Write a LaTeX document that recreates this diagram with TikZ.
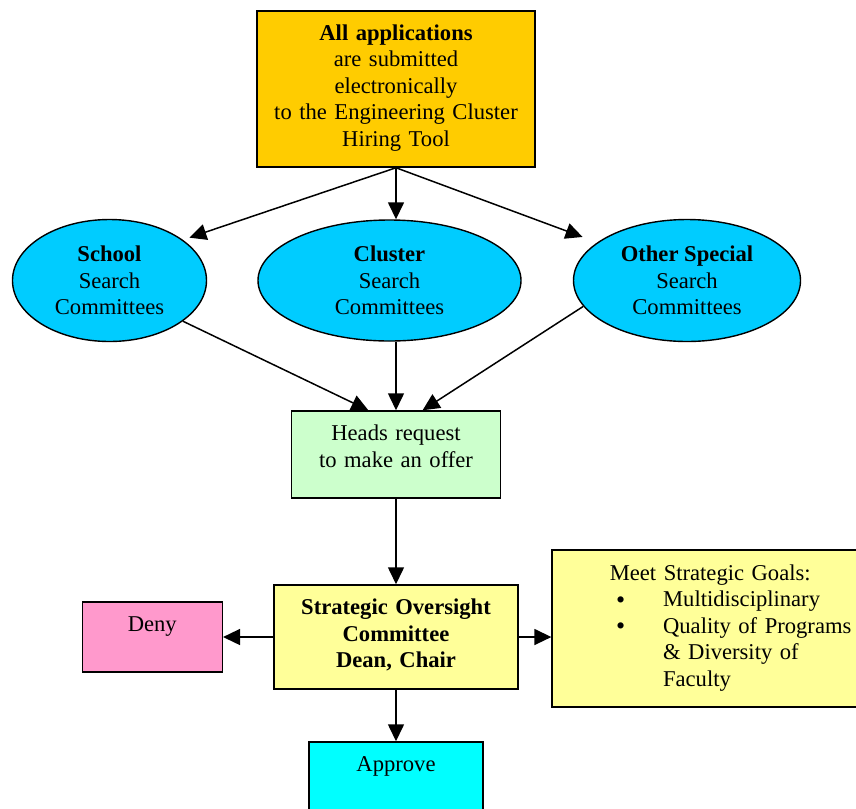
\documentclass[tikz,border=0pt]{standalone}
\usepackage{fontspec}
\setmainfont{Liberation Serif}
\usepackage{tikz}
\usetikzlibrary{shapes.geometric, arrows.meta}
\usepackage{xcolor}
\definecolor{mygold}{HTML}{FFCC00}
\definecolor{mysky}{HTML}{00CCFF}
\definecolor{mygreen}{HTML}{CCFFCC}
\definecolor{myyellow}{HTML}{FFFF99}
\definecolor{mypink}{HTML}{FF99CC}
\definecolor{mycyan}{HTML}{00FFFF}
\tikzstyle{portal} = [rectangle, text width=139pt, inner sep=0pt,
text height=14.75pt, text depth=63.25pt, align=center, draw=black,
line width=0.75pt, fill=mygold]
\tikzstyle{committee} = [ellipse, inner sep=0pt, align=center, draw=black,
line width=0.7pt, fill=mysky]
\tikzstyle{request} = [rectangle, text width=104.5pt, inner sep=0pt,
text height=14.75pt, text depth=28.75pt, align=center, draw=black,
line width=0.75pt, fill=mygreen]
\tikzstyle{board} = [rectangle, text width=122pt, inner sep=0pt,
text height=14.75pt, text depth=37.25pt, align=center, draw=black,
line width=0.75pt, fill=myyellow]
\tikzstyle{reject} = [rectangle, text width=70pt, inner sep=0pt,
text height=14.5pt, text depth=20.5pt, align=center, draw=black,
line width=0.75pt, fill=mypink]
\tikzstyle{accept} = [rectangle, text width=87pt, inner sep=0pt,
text height=14.75pt, text depth=20.25pt, align=center, draw=black,
line width=0.75pt, fill=mycyan]
\tikzstyle{criteria} = [rectangle, text width=154pt, inner sep=0pt,
text height=15pt, text depth=63.35pt, draw=black, line width=0.75pt,
fill=myyellow]
\tikzstyle{arrow} = [line width=0.75pt,->,>={Triangle[length=8.5pt,width=8pt]}]
\newcommand{\goalbullet}{\makebox[23.5pt][l]{\raisebox{-0.8pt}{\fontsize{13}{13}\selectfont\textbullet}}}

\begin{document}
\begin{tikzpicture}[font=\fontsize{11.3}{13.25}\selectfont]
  \useasboundingbox (0,0) rectangle (428pt,-404pt);
  \clip (0,0) rectangle (428pt,-404pt);
  % Nodes of the hiring process
  \node (apply) [portal] at (198pt,-44.5pt)
                {\textbf{All applications} \\ are submitted \\ electronically \\
                 to the Engineering Cluster \\ Hiring Tool};
  \node (cluster) [committee, below of=apply, minimum width=131.5pt,
                   minimum height=60.5pt, xshift=-3.25pt, yshift=-67.3pt]
                  {\textbf{Cluster} \\ Search \\ Committees};
  \node (school) [committee, left of=cluster, minimum width=97pt,
                  minimum height=61pt, xshift=-111.55pt]
                 {\textbf{School} \\ Search \\ Committees};
  \node (other) [committee, right of=cluster, minimum width=113.5pt,
                 minimum height=61pt, xshift=120.3pt]
                {\textbf{Other Special} \\ Search \\ Committees};
  \node (heads) [request, below of=cluster, xshift=3.25pt, yshift=-58.55pt]
                {Heads request \\ to make an offer};
  \node (oversight) [board, below of=heads, yshift=-62.8pt]
                    {\bfseries Strategic Oversight \\ Committee \\ Dean, Chair};
  \node (deny) [reject, left of=oversight, xshift=-93.4pt] {Deny};
  \node (goals) [criteria, right of=oversight, xshift=126.6pt, yshift=4.3pt]
                {\hspace*{28.85pt}Meet Strategic Goals:\par
                 \hspace*{32pt}\goalbullet Multidisciplinary\par
                 \hspace*{32pt}\goalbullet Quality of Programs\par
                 \hspace*{55.5pt}\& Diversity of\par
                 \hspace*{55.5pt}Faculty};
  \node (approve) [accept, below of=oversight, yshift=-41.55pt] {Approve};
  % Connections
  \draw [arrow, shorten >=3.4pt] (apply.south) -- (school.29);
  \draw [arrow] (apply.south) -- (apply.south |- cluster.north);
  \draw [arrow, shorten >=7.8pt] (apply.south) -- (other.157);
  \draw [arrow] (school.331) -- (heads.122);
  \draw [arrow] (cluster.south -| heads.north) -- (heads.north);
  \draw [arrow] (other.194) -- (heads.59);
  \draw [arrow] (heads) -- (oversight);
  \draw [arrow] (oversight) -- (deny);
  \draw [arrow] (oversight.east) -- (oversight.east -| goals.west);
  \draw [arrow] (oversight) -- (approve);
\end{tikzpicture}
\end{document}
